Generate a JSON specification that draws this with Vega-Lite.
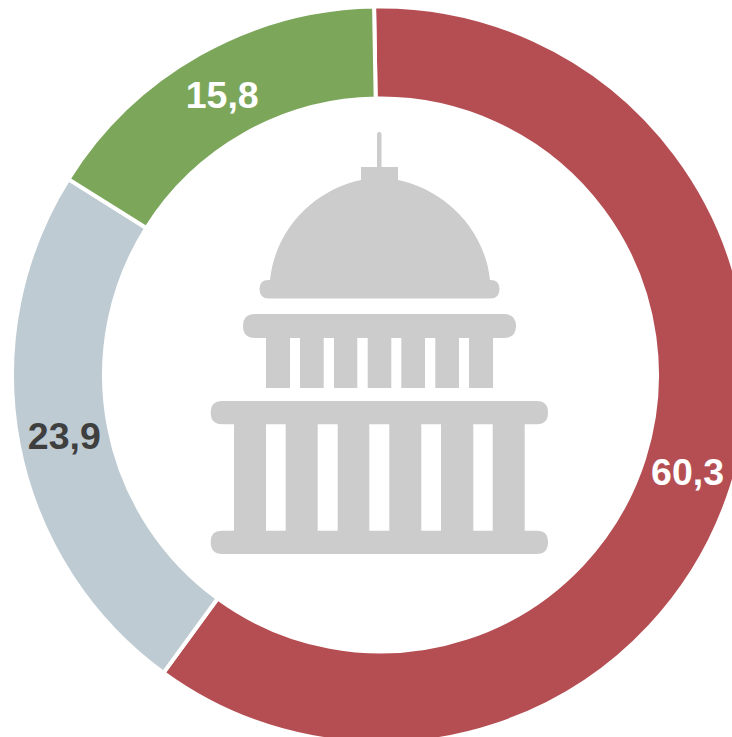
{
  "$schema": "https://vega.github.io/schema/vega-lite/v6.json",
  "width": 761,
  "height": 750,
  "padding": 0,
  "autosize": "none",
  "background": "white",
  "view": {"stroke": null},
  "layer": [
    {
      "data": {"values": [
        {"segment": "A", "rank": 1, "value": 60.3, "label": "60,3"},
        {"segment": "B", "rank": 2, "value": 23.9, "label": "23,9"},
        {"segment": "C", "rank": 3, "value": 15.8, "label": "15,8"}
      ]},
      "encoding": {
        "theta": {"field": "value", "type": "quantitative", "stack": true, "scale": {"domain": [0, 100], "range": [-0.01745, 6.26573]}},
        "order": {"field": "rank", "type": "ordinal"}
      },
      "layer": [
        {
          "mark": {"type": "arc", "innerRadius": 276.5, "outerRadius": 368.5, "stroke": "white", "strokeWidth": 4},
          "encoding": {
            "color": {"field": "segment", "type": "nominal", "legend": null, "scale": {"domain": ["A", "B", "C"], "range": ["#b54e53", "#becbd3", "#7ca75b"]}}
          }
        },
        {
          "mark": {"type": "text", "radius": 322, "font": "Liberation Sans", "fontWeight": "bold", "fontSize": 37.5, "align": "center", "baseline": "middle", "dy": 2},
          "encoding": {
            "text": {"field": "label", "type": "nominal"},
            "color": {"field": "segment", "type": "nominal", "legend": null, "scale": {"domain": ["A", "B", "C"], "range": ["#ffffff", "#3f3f3f", "#ffffff"]}}
          }
        }
      ],
      "resolve": {"scale": {"color": "independent"}}
    },
    {
      "data": {"values": [{"icon": "capitol"}]},
      "mark": {
        "type": "point",
        "filled": true,
        "opacity": 1,
        "color": "#cccccc",
        "size": 4,
        "xOffset": -0.5,
        "yOffset": -1,
        "shape": "M-3,-240 Q-3,-242 -0.75,-242 Q1.5,-242 1.5,-240 L1.5,-207 L18,-207 L18,-194 C59,-186 104,-150 110,-94 L110.5,-94 Q119.5,-94 119.5,-85 Q119.5,-75.5 110.5,-75.5 L-111.5,-75.5 Q-120.5,-75.5 -120.5,-85 Q-120.5,-94 -111.5,-94 L-110,-94 C-104,-150 -60,-186 -19,-194 L-19,-207 L-3,-207 Z M-125,-60 L124,-60 Q136,-60 136,-48 Q136,-36 124,-36 L-125,-36 Q-137,-36 -137,-48 Q-137,-60 -125,-60 Z M-114,-36 L-90,-36 L-90,14 L-114,14 Z M-80,-36 L-56.3,-36 L-56.3,14 L-80,14 Z M-46,-36 L-22.7,-36 L-22.7,14 L-46,14 Z M-12.3,-36 L11.3,-36 L11.3,14 L-12.3,14 Z M21.3,-36 L45,-36 L45,14 L21.3,14 Z M55.3,-36 L79,-36 L79,14 L55.3,14 Z M89,-36 L113,-36 L113,14 L89,14 Z M-158,27 L157,27 Q168,27 168,38.6 Q168,50.3 157,50.3 L144.7,50.3 L144.7,156.7 L157,156.7 Q168,156.7 168,168 Q168,180 157,180 L-158,180 Q-169.3,180 -169.3,168 Q-169.3,156.7 -158,156.7 L-146,156.7 L-146,50.3 L-158,50.3 Q-169.3,50.3 -169.3,38.6 Q-169.3,27 -158,27 Z M-114,50.3 L-114,156.7 L-94.3,156.7 L-94.3,50.3 Z M-62.3,50.3 L-62.3,156.7 L-42.3,156.7 L-42.3,50.3 Z M-10.7,50.3 L-10.7,156.7 L9.3,156.7 L9.3,50.3 Z M41.3,50.3 L41.3,156.7 L61,156.7 L61,50.3 Z M93.3,50.3 L93.3,156.7 L112.7,156.7 L112.7,50.3 Z"
      },
      "encoding": {}
    }
  ]
}
